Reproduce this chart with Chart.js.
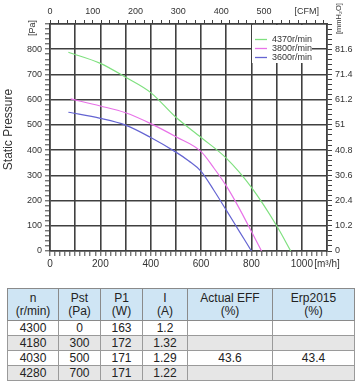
<!DOCTYPE html>
<html>
<head>
<meta charset="utf-8">
<script src="https://cdn.jsdelivr.net/npm/chart.js@4.4.1/dist/chart.umd.min.js"></script>
<style>
html,body{margin:0;padding:0;background:#fff;width:360px;height:381px;overflow:hidden;font-family:'Liberation Sans',Arial,sans-serif}
#wrap{position:absolute;left:0;top:0;width:360px;height:282px}
#spec{position:absolute;left:7px;top:288px;width:347px;border-collapse:collapse;table-layout:fixed;font-size:12px;color:#222}
#spec th{background:#cfe5f4;height:31px;font-weight:normal;line-height:13px;border:1px solid #8a8a8a;padding:0;text-align:center;vertical-align:middle}
#spec td{height:14px;line-height:14px;text-align:center;border:1px solid #9a9a9a;padding:0}
#spec tr.alt td{background:#e6e6e6}
</style>
</head>
<body>
<div id="wrap"><canvas id="c" width="360" height="282"></canvas></div>
<table id="spec"></table>
<script>
// ---- data ----
const seriesLabels = ['4370r/min', '3800r/min', '3600r/min'];
const flow4370 = [73, 200, 300, 400, 500, 600, 700, 800, 900, 956];
const pres4370 = [788, 744, 689, 628, 530, 450, 368, 252, 100, 0];
const flow3800 = [82, 200, 300, 400, 500, 600, 650, 700, 750, 800, 840];
const pres3800 = [603, 575, 548, 505, 453, 394, 330, 258, 172, 77, 0];
const flow3600 = [73, 200, 300, 400, 500, 550, 600, 650, 700, 750, 800];
const pres3600 = [550, 526, 499, 450, 392, 358, 316, 242, 162, 81, 0];

const flowTicks = [0, 200, 400, 600, 800, 1000];
const cfmTicks = [0, 100, 200, 300, 400, 500];
const paTicks = [0, 100, 200, 300, 400, 500, 600, 700, 800];
const mmH2OTicks = ['0', '10.2', '20.4', '30.6', '40.8', '51', '61.2', '71.4', '81.6'];

const tableHeader = [['n', '(r/min)'], ['Pst', '(Pa)'], ['P1', '(W)'], ['I', '(A)'], ['Actual EFF', '(%)'], ['Erp2015', '(%)']];
const tableRows = [
  ['4300', '0', '163', '1.2', '', ''],
  ['4180', '300', '172', '1.32', '', ''],
  ['4030', '500', '171', '1.29', '43.6', '43.4'],
  ['4280', '700', '171', '1.22', '', '']
];
const colWidths = [51, 42, 42, 45, 85, 82];

// ---- table ----
const tbl = document.getElementById('spec');
let html = '<colgroup>' + colWidths.map(w => '<col style="width:' + w + 'px">').join('') + '</colgroup><tr>';
html += tableHeader.map(h => '<th>' + h[0] + '<br>' + h[1] + '</th>').join('') + '</tr>';
tableRows.forEach((r, i) => {
  html += '<tr' + (i % 2 ? ' class="alt"' : '') + '>' + r.map(v => '<td>' + v + '</td>').join('') + '</tr>';
});
tbl.innerHTML = html;

// ---- chart ----
const FONT = "'Liberation Sans', Arial, sans-serif";
Chart.defaults.font.family = FONT;
const GRID = '#404040';
const TXT = '#333';
const M3H_PER_CFM = 1.69901;
const PA_MAX = 900, FLOW_MAX = 1100;
const colors = ['#7fe07f', '#e872e8', '#6464d2'];

function pts(xs, ys) { return xs.map((x, i) => ({x: x, y: ys[i]})); }
const majorColor = c => (c.tick && c.tick.value % 100 === 0) ? GRID : 'rgba(0,0,0,0)';

const extras = {
  id: 'extras',
  afterDraw(chart) {
    const ctx = chart.ctx, ca = chart.chartArea;
    const y = chart.scales.y;
    ctx.save();
    ctx.fillStyle = TXT;
    ctx.textBaseline = 'middle';
    ctx.textAlign = 'left';
    const py = y.getPixelForValue(PA_MAX) + 12;
    ctx.font = '9px ' + FONT;
    ctx.save(); ctx.translate(ca.left - 17, py); ctx.rotate(-Math.PI / 2); ctx.fillText('[Pa]', 0, 0); ctx.restore();
    ctx.font = '7.5px ' + FONT;
    ctx.save(); ctx.translate(ca.right + 12, py - 2); ctx.rotate(-Math.PI / 2); ctx.fillText('[mmH\u2082O]', 0, 0); ctx.restore();
    // y title
    ctx.font = '12px ' + FONT;
    ctx.textAlign = 'center';
    ctx.save(); ctx.translate(y.left + 9, (ca.top + ca.bottom) / 2 - 8); ctx.rotate(-Math.PI / 2); ctx.fillText('Static Pressure', 0, 0); ctx.restore();
    // legend
    const lx = ca.right - 75, ly = ca.top + 1;
    ctx.fillStyle = '#fff';
    ctx.fillRect(lx, ly, 60, 38);
    ctx.font = '9px ' + FONT;
    ctx.textAlign = 'left';
    chart.data.datasets.forEach((ds, i) => {
      const yy = Math.round(ly + 14 + i * 9) + 0.5;
      ctx.strokeStyle = ds.borderColor;
      ctx.lineWidth = 1.3;
      ctx.beginPath(); ctx.moveTo(lx + 3, yy); ctx.lineTo(lx + 15, yy); ctx.stroke();
      ctx.fillStyle = TXT;
      ctx.fillText(ds.label, lx + 20, yy);
    });
    ctx.restore();
  }
};

new Chart(document.getElementById('c'), {
  type: 'scatter',
  data: {
    datasets: [
      {label: seriesLabels[0], data: pts(flow4370, pres4370), borderColor: colors[0]},
      {label: seriesLabels[1], data: pts(flow3800, pres3800), borderColor: colors[1]},
      {label: seriesLabels[2], data: pts(flow3600, pres3600), borderColor: colors[2]}
    ].map(d => Object.assign(d, {showLine: true, pointRadius: 0, borderWidth: 1.2, cubicInterpolationMode: 'monotone', backgroundColor: d.borderColor}))
  },
  options: {
    responsive: false,
    animation: false,
    layout: {padding: 0},
    plugins: {legend: {display: false}, tooltip: {enabled: false}},
    scales: {
      x: {
        type: 'linear', position: 'bottom', min: 0, max: FLOW_MAX,
        afterFit: s => { s.height = 31; },
        border: {display: true, color: GRID, width: 1.6},
        grid: {color: majorColor, lineWidth: 1.6, tickColor: GRID, tickWidth: 1, tickLength: 5},
        ticks: {stepSize: 20, maxTicksLimit: 100, autoSkip: false, maxRotation: 0, includeBounds: false, color: TXT, font: {size: 10}, padding: 2,
          callback: v => flowTicks.includes(v) ? String(v) : (v === FLOW_MAX ? '[m\u00b3/h]' : '')}
      },
      x2: {
        type: 'linear', position: 'top', min: 0, max: FLOW_MAX / M3H_PER_CFM,
        afterFit: s => { s.height = 24; },
        border: {display: true, color: GRID, width: 1.6},
        grid: {drawOnChartArea: false, color: GRID, tickColor: GRID, tickWidth: 1, tickLength: 4},
        ticks: {stepSize: 20, maxTicksLimit: 100, autoSkip: false, maxRotation: 0, includeBounds: false, color: TXT, font: {size: 9}, padding: 3,
          callback: v => cfmTicks.includes(v) ? String(v) : (v === 600 ? '[CFM]' : '')}
      },
      y: {
        type: 'linear', position: 'left', min: 0, max: PA_MAX,
        afterFit: s => { s.width = 50; },
        border: {display: true, color: GRID, width: 1.6},
        grid: {color: majorColor, lineWidth: 1.6, tickColor: GRID, tickWidth: 1, tickLength: 5},
        ticks: {stepSize: 20, maxTicksLimit: 100, autoSkip: false, includeBounds: false, color: TXT, font: {size: 9}, padding: 3,
          callback: v => paTicks.includes(v) ? String(v) : ''}
      },
      y2: {
        type: 'linear', position: 'right', min: 0, max: PA_MAX,
        afterFit: s => { s.width = 33; },
        border: {display: true, color: GRID, width: 1.6},
        grid: {drawOnChartArea: false, color: GRID, tickColor: GRID, tickWidth: 1, tickLength: 5},
        ticks: {stepSize: 20, maxTicksLimit: 100, autoSkip: false, includeBounds: false, color: TXT, font: {size: 9}, padding: 3,
          callback: v => { const i = paTicks.indexOf(v); return i >= 0 ? mmH2OTicks[i] : ''; }}
      }
    }
  },
  plugins: [extras]
});
</script>
</body>
</html>
